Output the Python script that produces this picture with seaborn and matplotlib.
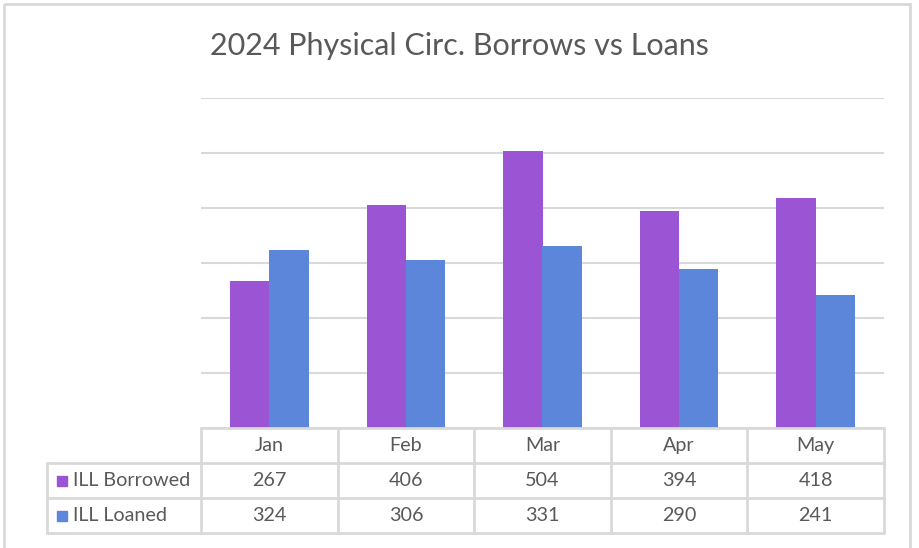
import pandas as pd
import numpy as np
import matplotlib.pyplot as plt
import seaborn as sns
from matplotlib.patches import Rectangle

# data
months = ['Jan', 'Feb', 'Mar', 'Apr', 'May']
series_names = ['ILL Borrowed', 'ILL Loaned']
borrowed = [267, 406, 504, 394, 418]
loaned = [324, 306, 331, 290, 241]
colors = ['#9b55d4', '#5b86da']

df = pd.DataFrame({'month': months * 2,
                   'series': [series_names[0]] * 5 + [series_names[1]] * 5,
                   'value': borrowed + loaned})

sns.set_style('white')
plt.rcParams['font.family'] = ['Lato', 'DejaVu Sans']
txt = '#595959'
grid = '#d9d9d9'

W, H = 920, 548
fig = plt.figure(figsize=(W / 100, H / 100), dpi=100)

# plot area in pixels
x0, x1, ytop, ybot = 201, 884, 98, 428
ax = fig.add_axes([x0 / W, 1 - ybot / H, (x1 - x0) / W, (ybot - ytop) / H])
sns.barplot(data=df, x='month', y='value', hue='series', palette=colors,
            width=0.575, gap=0, saturation=1, linewidth=0, ax=ax, legend=False)
ax.set_ylim(0, 600)
ax.set_xlim(-0.5, len(months) - 0.5)
ax.set_yticks(np.arange(0, 601, 100))
ax.yaxis.grid(True, color=grid, linewidth=1.5)
ax.set_axisbelow(True)
ax.set_yticklabels([])
ax.set_xticks([])
ax.set_xlabel('')
ax.set_ylabel('')
for s in ax.spines.values():
    s.set_visible(False)

# overlay for title, table and border (pixel coordinates)
ov = fig.add_axes([0, 0, 1, 1], facecolor='none')
ov.set_xlim(0, W)
ov.set_ylim(H, 0)
ov.axis('off')

ov.add_patch(Rectangle((4, 4), 906, 560, fill=False, edgecolor=grid, linewidth=2))
ov.text(459, 46, '2024 Physical Circ. Borrows vs Loans', ha='center', va='center',
        fontsize=22, color=txt)

# data table
cw = (x1 - x0) / len(months)
row_y = [428, 463, 498, 533]
lab_x = 47
lw = 2
fs = 14.2
ov.plot([x0, x1], [row_y[0], row_y[0]], color=grid, lw=lw)
for y in row_y[1:]:
    ov.plot([lab_x, x1], [y, y], color=grid, lw=lw)
ov.plot([lab_x, lab_x], [row_y[1], row_y[3]], color=grid, lw=lw)
for i in range(len(months) + 1):
    xx = x0 + i * cw
    ov.plot([xx, xx], [row_y[0], row_y[3]], color=grid, lw=lw)

for i, m in enumerate(months):
    cx = x0 + (i + 0.5) * cw
    ov.text(cx, (row_y[0] + row_y[1]) / 2, m, ha='center', va='center', fontsize=fs, color=txt)
    ov.text(cx, (row_y[1] + row_y[2]) / 2, str(borrowed[i]), ha='center', va='center', fontsize=fs, color=txt)
    ov.text(cx, (row_y[2] + row_y[3]) / 2, str(loaned[i]), ha='center', va='center', fontsize=fs, color=txt)

for j, name in enumerate(series_names):
    yc = (row_y[j + 1] + row_y[j + 2]) / 2
    ov.add_patch(Rectangle((57, yc - 5), 10, 10, color=colors[j]))
    ov.text(73, yc, name, ha='left', va='center', fontsize=fs, color=txt)

fig.savefig('out.png', dpi=100)
